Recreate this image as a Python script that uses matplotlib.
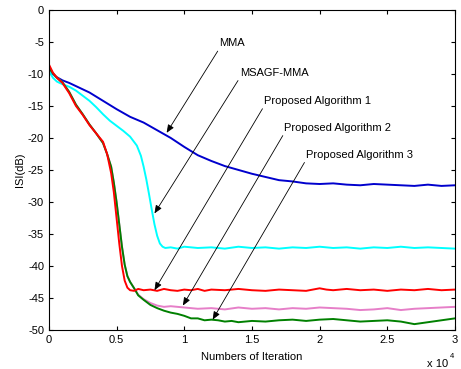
import numpy as np
import matplotlib
matplotlib.use('Agg')
import matplotlib.pyplot as plt
from matplotlib.ticker import FuncFormatter

# iterations in units of 1e4
x_mma = [0, 0.02, 0.05, 0.1, 0.15, 0.2, 0.3, 0.4, 0.5, 0.6, 0.7, 0.8, 0.9, 1.0, 1.1, 1.2,
         1.3, 1.4, 1.5, 1.6, 1.7, 1.8, 1.9, 2.0, 2.1, 2.2, 2.3, 2.4, 2.5, 2.6, 2.7, 2.8, 2.9, 3.0]
y_mma = [-9.0, -9.8, -10.4, -11.0, -11.4, -11.9, -12.9, -14.2, -15.5, -16.7, -17.6, -18.8, -20.0,
         -21.4, -22.7, -23.6, -24.4, -25.0, -25.6, -26.1, -26.6, -26.8, -27.1, -27.2, -27.1, -27.3,
         -27.4, -27.2, -27.3, -27.4, -27.5, -27.3, -27.5, -27.4]

x_msagf = [0, 0.03, 0.06, 0.1, 0.15, 0.2, 0.25, 0.3, 0.35, 0.4, 0.45, 0.5, 0.55, 0.6, 0.65,
           0.68, 0.7, 0.72, 0.74, 0.76, 0.78, 0.8, 0.82, 0.84, 0.86, 0.9, 0.95, 1.0, 1.1, 1.2,
           1.3, 1.4, 1.5, 1.6, 1.7, 1.8, 1.9, 2.0, 2.1, 2.2, 2.3, 2.4, 2.5, 2.6, 2.7, 2.8, 2.9, 3.0]
y_msagf = [-9.5, -10.6, -11.2, -11.6, -12.0, -12.6, -13.4, -14.2, -15.2, -16.3, -17.3, -18.1,
           -18.9, -19.8, -21.2, -22.8, -24.5, -26.5, -28.8, -31.2, -33.5, -35.3, -36.5, -37.0,
           -37.2, -37.1, -37.3, -37.0, -37.2, -37.1, -37.3, -37.0, -37.2, -37.1, -37.3, -37.1,
           -37.2, -37.0, -37.2, -37.1, -37.3, -37.1, -37.2, -37.0, -37.2, -37.1, -37.2, -37.3]

x_pa1 = [0, 0.03, 0.06, 0.1, 0.15, 0.2, 0.25, 0.3, 0.35, 0.4, 0.43, 0.46, 0.48, 0.5, 0.52,
         0.54, 0.56, 0.58, 0.6, 0.63, 0.66, 0.7, 0.75, 0.8, 0.85, 0.9, 0.95, 1.0, 1.05, 1.1,
         1.15, 1.2, 1.3, 1.4, 1.5, 1.6, 1.7, 1.8, 1.9, 2.0, 2.05, 2.1, 2.2, 2.3, 2.4, 2.5, 2.6,
         2.7, 2.8, 2.9, 3.0]
y_pa1 = [-8.5, -9.8, -10.6, -11.4, -13.0, -15.0, -16.4, -18.0, -19.3, -20.6, -22.5, -25.5,
         -28.5, -32.5, -36.5, -40.0, -42.3, -43.4, -43.8, -43.9, -43.6, -43.8, -43.7, -43.9,
         -43.6, -43.8, -43.9, -43.7, -43.8, -43.6, -43.9, -43.7, -43.8, -43.6, -43.8, -43.9,
         -43.7, -43.8, -43.9, -43.5, -43.7, -43.8, -43.6, -43.8, -43.7, -43.9, -43.7, -43.8,
         -43.6, -43.8, -43.7]

x_pa2 = [0, 0.03, 0.06, 0.1, 0.15, 0.2, 0.25, 0.3, 0.35, 0.4, 0.43, 0.46, 0.48, 0.5, 0.52,
         0.54, 0.56, 0.58, 0.6, 0.63, 0.66, 0.7, 0.75, 0.8, 0.85, 0.9, 1.0, 1.1, 1.2, 1.3, 1.4,
         1.5, 1.6, 1.7, 1.8, 1.9, 2.0, 2.1, 2.2, 2.3, 2.4, 2.5, 2.6, 2.7, 2.8, 2.9, 3.0]
y_pa2 = [-9.0, -9.9, -10.6, -11.3, -12.8, -14.8, -16.3, -17.9, -19.3, -20.8, -22.5, -24.5,
         -27.0, -30.0, -33.5, -37.0, -39.8, -41.6, -42.5, -43.5, -44.5, -45.2, -45.8, -46.2,
         -46.4, -46.3, -46.5, -46.7, -46.6, -46.8, -46.5, -46.7, -46.6, -46.8, -46.6, -46.7,
         -46.5, -46.6, -46.7, -46.9, -46.8, -46.6, -46.9, -46.7, -46.6, -46.5, -46.4]

x_pa3 = [0, 0.03, 0.06, 0.1, 0.15, 0.2, 0.25, 0.3, 0.35, 0.4, 0.43, 0.46, 0.48, 0.5, 0.52,
         0.54, 0.56, 0.58, 0.6, 0.63, 0.66, 0.7, 0.75, 0.8, 0.85, 0.9, 0.95, 1.0, 1.05, 1.1,
         1.15, 1.2, 1.25, 1.3, 1.35, 1.4, 1.5, 1.6, 1.7, 1.8, 1.9, 2.0, 2.1, 2.2, 2.3, 2.4,
         2.5, 2.6, 2.7, 2.8, 2.9, 3.0]
y_pa3 = [-9.0, -9.9, -10.6, -11.3, -12.8, -14.8, -16.3, -17.9, -19.3, -20.8, -22.5, -24.5,
         -27.0, -30.0, -33.5, -37.0, -39.8, -41.6, -42.5, -43.5, -44.6, -45.3, -46.1, -46.6,
         -47.0, -47.3, -47.5, -47.8, -48.2, -48.2, -48.5, -48.4, -48.5, -48.7, -48.6, -48.8,
         -48.6, -48.7, -48.5, -48.4, -48.6, -48.4, -48.3, -48.5, -48.7, -48.6, -48.5, -48.7,
         -49.1, -48.8, -48.5, -48.2]

notes = ['MMA', 'MSAGF-MMA', 'Proposed Algorithm 1', 'Proposed Algorithm 2', 'Proposed Algorithm 3']
note_text = [(1.26, -6.0), (1.41, -10.6), (1.59, -15.0), (1.74, -19.2), (1.90, -23.4)]
note_tip = [(0.87, -19.2), (0.78, -31.8), (0.78, -43.8), (0.99, -46.2), (1.21, -48.4)]

plt.rcParams['font.family'] = ['Liberation Sans', 'DejaVu Sans']
plt.rcParams['axes.unicode_minus'] = False

fig = plt.figure(figsize=(4.61, 3.69), dpi=100)
ax = fig.add_axes([0.106, 0.106, 0.881, 0.867])

ax.plot(np.array(x_mma) * 1e4, y_mma, color='#0000CD', lw=1.4)
ax.plot(np.array(x_msagf) * 1e4, y_msagf, color='#00FFFF', lw=1.4)
ax.plot(np.array(x_pa2) * 1e4, y_pa2, color='#E67FC8', lw=1.4)
ax.plot(np.array(x_pa3) * 1e4, y_pa3, color='#008000', lw=1.4)
ax.plot(np.array(x_pa1) * 1e4, y_pa1, color='#FF0000', lw=1.4)

for s, (tx, ty), (px, py) in zip(notes, note_text, note_tip):
    ax.annotate(s, xy=(px * 1e4, py), xytext=(tx * 1e4, ty), fontsize=8,
                ha='left', va='bottom',
                arrowprops=dict(arrowstyle='-|>,head_length=0.6,head_width=0.25',
                                color='black', lw=0.6, shrinkA=0, shrinkB=0,
                                relpos=(0.0, 0.0)))

ax.set_xlim(0, 30000)
ax.set_ylim(-50, 0)
ax.set_yticks(np.arange(-50, 1, 5))
ax.set_xticks(np.arange(0, 30001, 5000))
ax.xaxis.set_major_formatter(FuncFormatter(lambda v, p: '%g' % (v / 1e4)))
ax.tick_params(direction='in', top=True, right=True, labelsize=8, length=3)
ax.set_xlabel('Numbers of Iteration', fontsize=8, labelpad=5)
ax.set_ylabel('ISI(dB)', fontsize=8, labelpad=2)

fig.text(427 / 461, 1 - 367 / 369, 'x 10', fontsize=8, ha='left', va='baseline')
fig.text(450 / 461, 1 - 358 / 369, '4', fontsize=5.5, ha='left', va='baseline')

fig.savefig('out.png', dpi=100)
